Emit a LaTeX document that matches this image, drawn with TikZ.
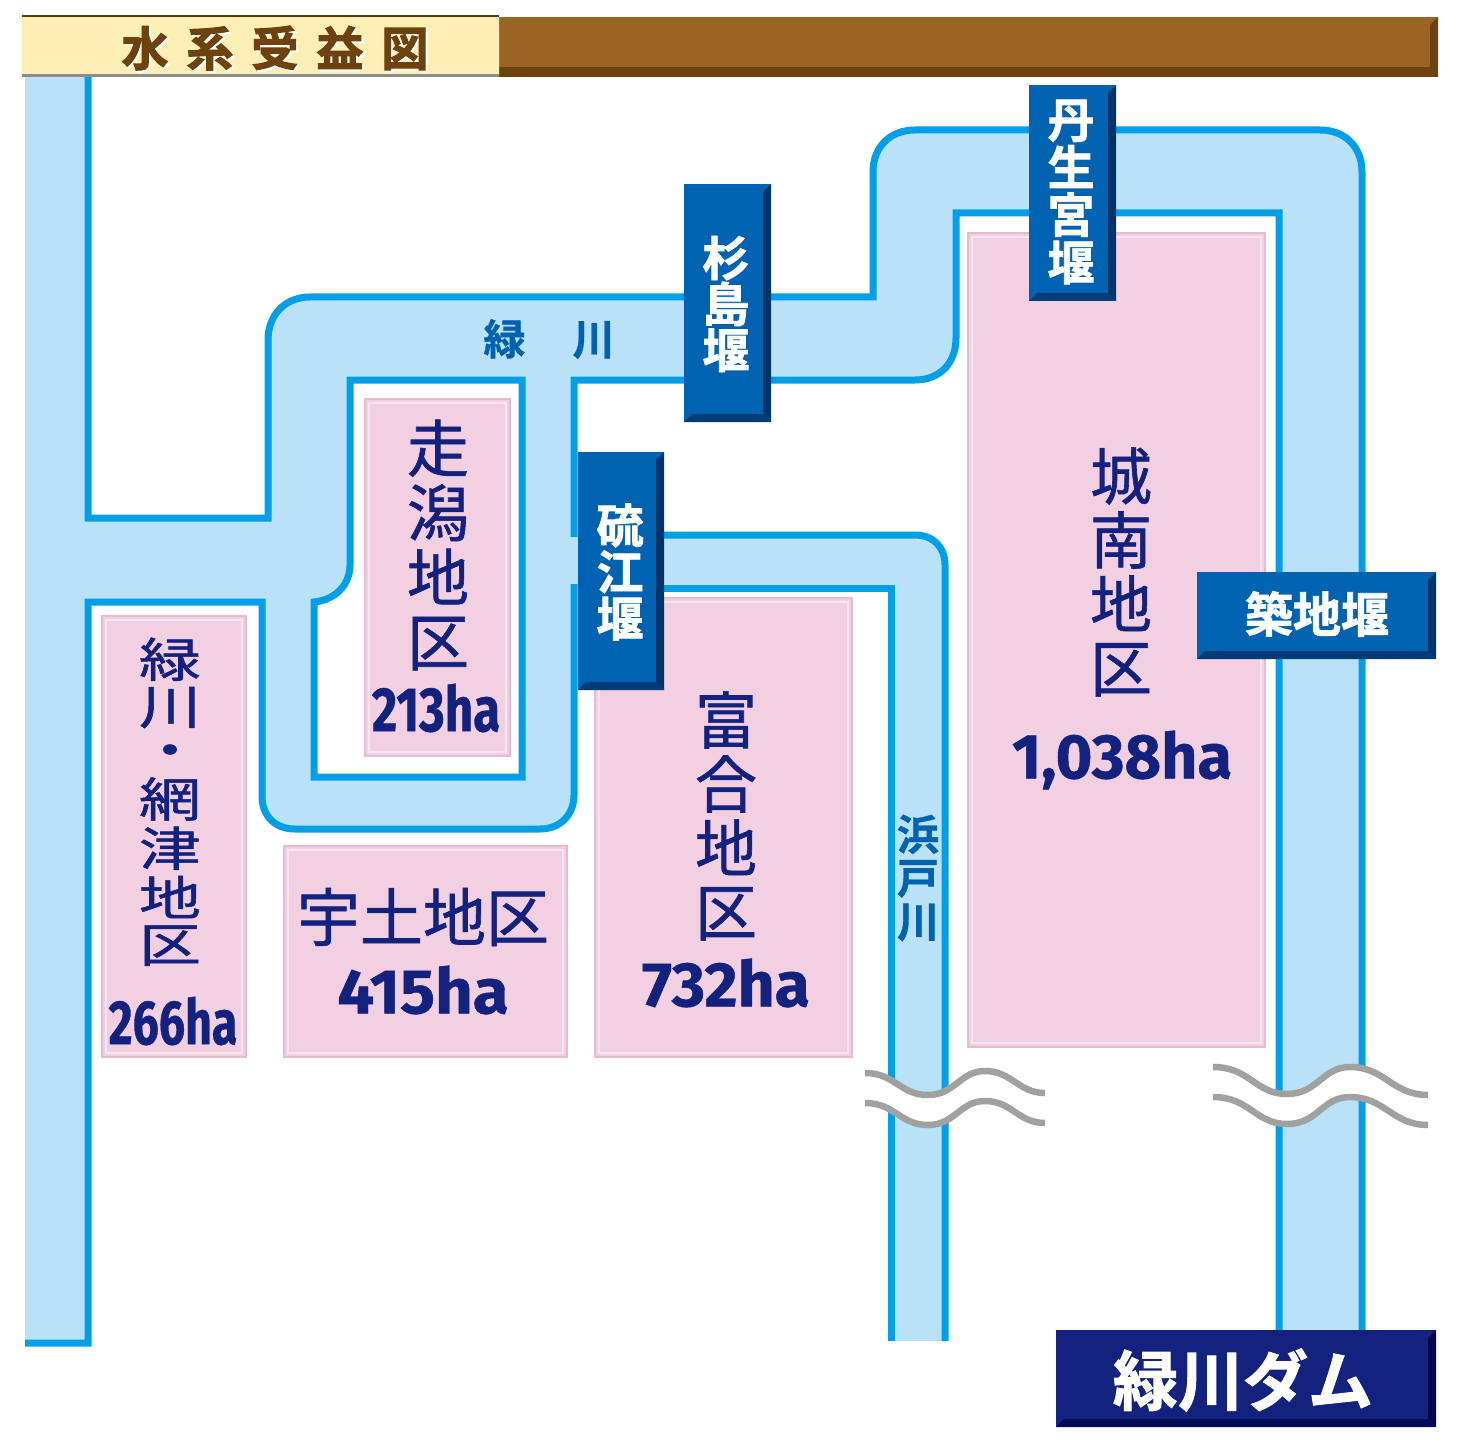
\documentclass[tikz,border=0pt]{standalone}
\usepackage{fontspec}
\usepackage{graphicx}
\newfontfamily\cjkreg{Noto Sans CJK JP}[FakeBold=1.0]
\newfontfamily\cjkbold{Noto Sans CJK JP Bold}[FakeBold=0.8]
\newfontfamily\cjkfat{Noto Sans CJK JP Bold}[FakeBold=1.7]
\newfontfamily\cjkheavy{Noto Sans CJK JP Bold}[FakeBold=2.4]
\newfontfamily\numfont{Fira Sans Bold}[FakeBold=0.7]
\definecolor{riverfill}{HTML}{B9E2F8}
\definecolor{riverline}{HTML}{009FE8}
\definecolor{pinkfill}{HTML}{F3D0E1}
\definecolor{pinkedge}{HTML}{E5BCD1}
\definecolor{pinkin}{HTML}{FAE6EF}
\definecolor{navytext}{HTML}{13217F}
\definecolor{weirblue}{HTML}{0063B1}
\definecolor{weirdark}{HTML}{00356B}
\definecolor{damdark}{HTML}{00084D}
\definecolor{wavegray}{HTML}{A0A2A0}
\definecolor{brownbar}{HTML}{9A6425}
\definecolor{browndark}{HTML}{6E420F}
\definecolor{cream}{HTML}{FDEFB5}
\definecolor{creammid}{HTML}{FCE79E}
\newcommand\pinkbox[4]{%
  \fill[pinkfill,draw=pinkedge,line width=2pt] (#1,#2) rectangle (#3,#4);
  \draw[pinkin,line width=1.5pt] (#1+4,#2+4) rectangle (#3-4,#4-4);}
\newcommand\bevelbox[6]{% x1 y1 x2 y2 main dark
  \fill[#5] (#1,#2) rectangle (#3,#4);
  \fill[#6] (#3,#2) -- (#3,#4) -- (#3-8,#4-8) -- (#3-8,#2+8) -- cycle;
  \fill[#6!85!#5] (#1,#4) -- (#3,#4) -- (#3-8,#4-8) -- (#1+8,#4-8) -- cycle;}
\newcommand\labelnum[3]{\scalebox{#1}[#2]{\numfont #3}}
\newcommand\sized[2]{\fontsize{#1}{#2}\selectfont}
\tikzset{
  riveredge/.style={draw=riverline,line width=7pt,line join=miter},
  wave/.style={draw=wavegray,line width=6.5pt},
  area/.style={text=navytext,inner sep=0pt,align=center},
  weirtext/.style={text=white,inner sep=0pt,align=center},
  rivertext/.style={text=weirblue,inner sep=0pt,align=center},
  amount/.style={text=navytext,inner sep=0pt}
}
\begin{document}
\begin{tikzpicture}[x=1pt,y=-1pt]
\useasboundingbox (0,0) rectangle (1464,1439);
\fill[white] (0,0) rectangle (1464,1439);
% river body
\fill[riverfill] (25,76) -- (88,76) -- (88,518) -- (268,518) -- (268,340)
  .. controls (268,315) and (285,297) .. (310,297) -- (873,297) -- (873,172)
  .. controls (873,147) and (890,130) .. (915,130) -- (1320,130)
  .. controls (1345,130) and (1362,147) .. (1362,172) -- (1362,1332) -- (1279,1332)
  -- (1279,213) -- (956,213) -- (956,338)
  .. controls (956,363) and (940,380) .. (915,380) -- (574,380) -- (574,535)
  -- (915,535) .. controls (933,535) and (945,547) .. (945,565) -- (945,1341)
  -- (891,1341) -- (891,588) -- (574,588) -- (574,795)
  .. controls (574,815) and (560,829) .. (540,829) -- (295,829)
  .. controls (275,829) and (262,816) .. (262,796) -- (262,602) -- (88,602)
  -- (88,1343) -- (25,1343) -- cycle;
\fill[white] (350,380) -- (522,380) -- (522,777) -- (314,777) -- (314,602)
  .. controls (335,600) and (350,585) .. (350,565) -- cycle;
% river edges
\draw[riveredge] (88,76) -- (88,518) -- (268,518) -- (268,340)
  .. controls (268,315) and (285,297) .. (310,297) -- (873,297) -- (873,172)
  .. controls (873,147) and (890,130) .. (915,130) -- (1320,130)
  .. controls (1345,130) and (1362,147) .. (1362,172) -- (1362,1332);
\draw[riveredge] (1279,1332) -- (1279,213) -- (956,213) -- (956,338)
  .. controls (956,363) and (940,380) .. (915,380) -- (574,380) -- (574,537);
\draw[riveredge] (620,535) -- (915,535) .. controls (933,535) and (945,547) .. (945,565) -- (945,1341);
\draw[riveredge] (891,1341) -- (891,588) -- (620,588);
\draw[riveredge] (574,584) -- (574,795)
  .. controls (574,815) and (560,829) .. (540,829) -- (295,829)
  .. controls (275,829) and (262,816) .. (262,796) -- (262,602) -- (88,602)
  -- (88,1343) -- (25,1343);
\draw[riveredge] (350,380) -- (522,380) -- (522,777) -- (314,777) -- (314,602)
  .. controls (335,600) and (350,585) .. (350,565) -- cycle;
% river breaks
\fill[white] (865,1073) .. controls (895,1073) and (900,1095) .. (928,1095)
  .. controls (955,1095) and (960,1071) .. (985,1071)
  .. controls (1012,1071) and (1018,1093) .. (1045,1093)
  -- (1045,1123) .. controls (1018,1123) and (1012,1101) .. (985,1101)
  .. controls (960,1101) and (955,1125) .. (928,1125)
  .. controls (900,1125) and (895,1103) .. (865,1103) -- cycle;
\fill[white] (1213,1067) .. controls (1250,1067) and (1255,1094) .. (1287,1094)
  .. controls (1318,1094) and (1322,1067) .. (1350,1067)
  .. controls (1385,1067) and (1392,1095) .. (1428,1095)
  -- (1428,1125) .. controls (1392,1125) and (1385,1097) .. (1350,1097)
  .. controls (1322,1097) and (1318,1124) .. (1287,1124)
  .. controls (1255,1124) and (1250,1097) .. (1213,1097) -- cycle;
\draw[wave] (865,1073) .. controls (895,1073) and (900,1095) .. (928,1095)
  .. controls (955,1095) and (960,1071) .. (985,1071)
  .. controls (1012,1071) and (1018,1093) .. (1045,1093);
\draw[wave] (865,1103) .. controls (895,1103) and (900,1125) .. (928,1125)
  .. controls (955,1125) and (960,1101) .. (985,1101)
  .. controls (1012,1101) and (1018,1123) .. (1045,1123);
\draw[wave] (1213,1067) .. controls (1250,1067) and (1255,1094) .. (1287,1094)
  .. controls (1318,1094) and (1322,1067) .. (1350,1067)
  .. controls (1385,1067) and (1392,1095) .. (1428,1095);
\draw[wave] (1213,1097) .. controls (1250,1097) and (1255,1124) .. (1287,1124)
  .. controls (1318,1124) and (1322,1097) .. (1350,1097)
  .. controls (1385,1097) and (1392,1125) .. (1428,1125);
% header
\fill[brownbar] (499,17) rectangle (1438,77);
\fill[browndark] (499,67) rectangle (1438,77);
\fill[browndark] (1438,17) -- (1438,77) -- (1430,67) -- (1430,25) -- cycle;
\shade[left color=cream,middle color=creammid,right color=cream] (22,16) rectangle (499,76);
\draw[black!55!brown,line width=2pt] (22,16.5) -- (499,16.5);
\draw[black!45,line width=2.5pt] (22,75.5) -- (499,75.5);
\node[inner sep=0pt,text=white,font=\cjkheavy\sized{47}{47}] (headshadow) at (277,50)
  {水\hspace{18pt}系\hspace{18pt}受\hspace{18pt}益\hspace{18pt}図};
\node[inner sep=0pt,text=browndark,font=\cjkheavy\sized{47}{47}] (head) at (275,48)
  {水\hspace{18pt}系\hspace{18pt}受\hspace{18pt}益\hspace{18pt}図};
% areas
\pinkbox{365}{399}{510}{756}
\pinkbox{102}{616}{246}{1057}
\pinkbox{284}{846}{567}{1057}
\pinkbox{595}{598}{852}{1057}
\pinkbox{968}{233}{1265}{1047}
\node[area,font=\cjkreg\sized{62}{64.5}] (hashirigata) at (438,545) {走\\潟\\地\\区};
\node[amount] (n213) at (436,708) {\labelnum{.88}{1.12}{\sized{56}{56}213ha}};
\node[area,font=\cjkreg\sized{62}{63}] (amitsu) at (170,807)
  {\scalebox{1}[.76]{\begin{tabular}{@{}c@{}}緑\\[-6pt]川\\[-6pt]・\\[-6pt]網\\[-6pt]津\\[-6pt]地\\[-6pt]区\end{tabular}}};
\node[amount] (n266) at (173,1021) {\labelnum{.83}{1.12}{\sized{56}{56}266ha}};
\node[area,font=\cjkreg\sized{63}{63}] (uto) at (423,917) {宇土地区};
\node[amount] (n415) at (423,990) {\labelnum{1.09}{1.05}{\sized{60}{60}415ha}};
\node[area,font=\cjkreg\sized{62}{64}] (togo) at (726,816) {富\\合\\地\\区};
\node[amount] (n732) at (726,983) {\labelnum{1.07}{1.05}{\sized{60}{60}732ha}};
\node[area,font=\cjkreg\sized{62}{64}] (jonan) at (1121,572) {城\\南\\地\\区};
\node[amount] (n1038) at (1122,760) {\labelnum{1.05}{1.05}{\sized{60}{60}1,038ha}};
% river labels
\node[rivertext,font=\cjkbold\sized{42}{42}] (midori) at (549,339) {緑\hspace{47pt}川};
\node[rivertext,font=\cjkbold\sized{42}{43.5}] (hamado) at (918,878) {浜\\戸\\川};
% weirs
\bevelbox{684}{184}{771}{422}{weirblue}{weirdark}
\bevelbox{578}{452}{664}{690}{weirblue}{weirdark}
\bevelbox{1029}{85}{1116}{301}{weirblue}{weirdark}
\bevelbox{1197}{572}{1436}{659}{weirblue}{weirdark}
\node[weirtext,font=\cjkfat\sized{47}{46}] (sugi) at (726,304) {杉\\島\\堰};
\node[weirtext,font=\cjkfat\sized{47}{46.5}] (ioe) at (620,572) {硫\\江\\堰};
\node[weirtext,font=\cjkfat\sized{47}{47.5}] (nyu) at (1071,192) {丹\\生\\宮\\堰};
\node[weirtext,font=\cjkfat\sized{48}{48}] (tsuiji) at (1317,614) {築地堰};
% dam
\bevelbox{1056}{1330}{1436}{1427}{navytext}{damdark}
\node[weirtext,font=\cjkfat\sized{65}{65}] (dam) at (1243,1380) {緑川ダム};
\end{tikzpicture}
\end{document}
